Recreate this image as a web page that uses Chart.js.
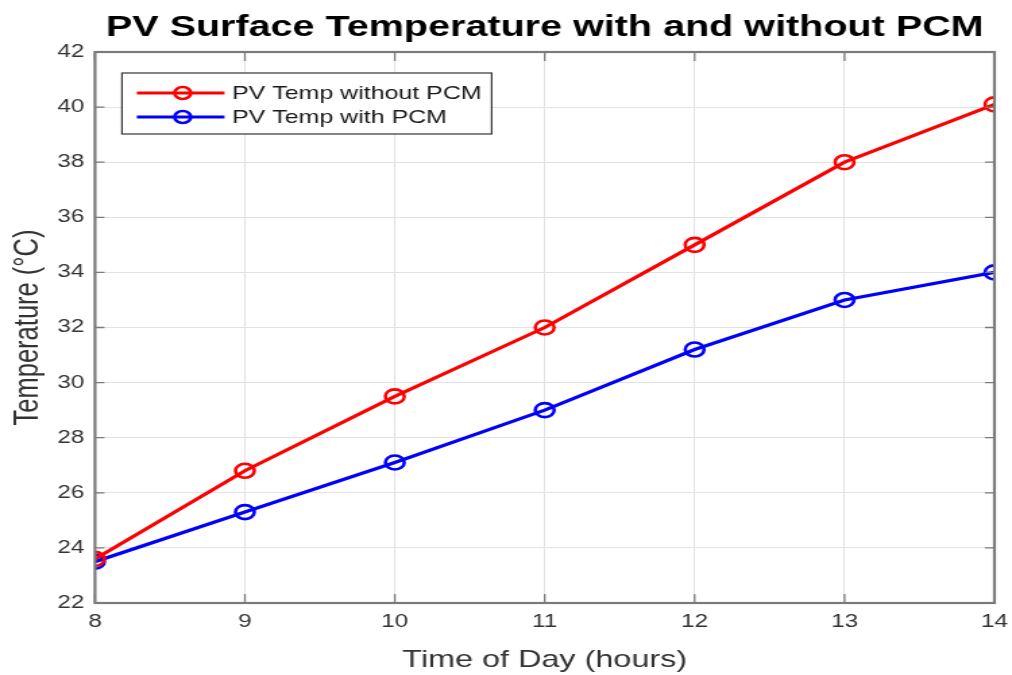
<!DOCTYPE html>
<html>
<head>
<meta charset="utf-8">
<script src="https://cdn.jsdelivr.net/npm/chart.js@4"></script>
<style>
  html, body { margin: 0; padding: 0; background: #fff; overflow: hidden; }
  /* the reference figure is stretched sideways, so draw narrow and stretch */
  #wrap { width: 750px; height: 675px; transform: scaleX(1.3493); transform-origin: 0 0; }
</style>
</head>
<body>
<div id="wrap"><canvas id="myChart"></canvas></div>
<script>
// data
var hours = [8, 9, 10, 11, 12, 13, 14];
var tempWithout = [23.6, 26.8, 29.5, 32.0, 35.0, 38.0, 40.1];
var tempWith = [23.5, 25.3, 27.1, 29.0, 31.2, 33.0, 34.0];
var seriesNames = ['PV Temp without PCM', 'PV Temp with PCM'];
var chartTitle = 'PV Surface Temperature with and without PCM';

function toPoints(values) {
    return hours.map(function (h, i) { return { x: h, y: values[i] }; });
}

var FONT = 'Liberation Sans, Arial, Helvetica, sans-serif';
var axisGray = '#7a7a7a';

// box around the axes, inward ticks, title over the plot and an in-plot legend
var matlabBox = {
    id: 'matlabBox',
    afterDatasetsDraw: function (chart) {
        var ctx = chart.ctx, a = chart.chartArea;
        var xs = chart.scales.x, ys = chart.scales.y;
        ctx.save();
        ctx.strokeStyle = axisGray;
        ctx.lineWidth = 1.3;
        ctx.beginPath();
        hours.forEach(function (h) {
            var px = xs.getPixelForValue(h);
            ctx.moveTo(px, a.top); ctx.lineTo(px, a.top + 9);
            ctx.moveTo(px, a.bottom); ctx.lineTo(px, a.bottom - 9);
        });
        ys.ticks.forEach(function (t) {
            var py = ys.getPixelForValue(t.value);
            ctx.moveTo(a.left, py); ctx.lineTo(a.left + 7, py);
            ctx.moveTo(a.right, py); ctx.lineTo(a.right - 7, py);
        });
        ctx.stroke();
        ctx.lineWidth = 2.2;
        ctx.strokeRect(a.left, a.top, a.right - a.left, a.bottom - a.top);

        // title, centred over the plot area
        ctx.fillStyle = '#000';
        ctx.font = 'bold 29.3px ' + FONT;
        ctx.textAlign = 'center';
        ctx.textBaseline = 'middle';
        ctx.fillText(chartTitle, (a.left + a.right) / 2, 28);

        // legend
        var bx = a.left + 20, by = a.top + 21, bw = 274, bh = 61;
        ctx.fillStyle = '#fff';
        ctx.fillRect(bx, by, bw, bh);
        ctx.strokeStyle = '#333';
        ctx.lineWidth = 1.2;
        ctx.strokeRect(bx, by, bw, bh);
        chart.data.datasets.forEach(function (ds, i) {
            var y = by + 20 + i * 24;
            ctx.strokeStyle = ds.borderColor;
            ctx.lineWidth = 3;
            ctx.beginPath();
            ctx.moveTo(bx + 11, y); ctx.lineTo(bx + 76, y);
            ctx.stroke();
            ctx.lineWidth = 2.5;
            ctx.beginPath();
            ctx.arc(bx + 45, y, 6, 0, Math.PI * 2);
            ctx.stroke();
            ctx.fillStyle = '#1a1a1a';
            ctx.font = '18.5px ' + FONT;
            ctx.textBaseline = 'middle';
            ctx.textAlign = 'left';
            ctx.fillText(ds.label, bx + 81.5, y + 1);
        });
        ctx.restore();
    }
};

const data = {
    datasets: [
        {
            label: seriesNames[0],
            data: toPoints(tempWithout),
            borderColor: '#ff0000',
            backgroundColor: 'transparent',
            pointBackgroundColor: 'transparent',
            pointBorderColor: '#ff0000',
        },
        {
            label: seriesNames[1],
            data: toPoints(tempWith),
            borderColor: '#0000ff',
            backgroundColor: 'transparent',
            pointBackgroundColor: 'transparent',
            pointBorderColor: '#0000ff',
        }
    ]
};

const config = {
    type: 'line',
    data: data,
    plugins: [matlabBox],
    options: {
        responsive: true,
        maintainAspectRatio: false,
        animation: false,
        layout: { padding: { left: 0, right: 13, top: 52, bottom: 0 } },
        elements: {
            line: { borderWidth: 3.2, tension: 0 },
            point: { radius: 7, borderWidth: 2.6, hoverRadius: 7 }
        },
        plugins: {
            legend: { display: false },
            tooltip: { enabled: false },
            title: { display: false }
        },
        scales: {
            x: {
                type: 'linear',
                min: 8,
                max: 14,
                afterFit: function (s) {
                    s.height = 72;
                    s.paddingLeft = 0;
                    s.paddingRight = 0;
                },
                ticks: {
                    stepSize: 1,
                    color: '#333',
                    padding: 8,
                    font: { family: FONT, size: 18 }
                },
                grid: { color: '#e2e2e2', lineWidth: 1, drawTicks: false },
                border: { display: false },
                title: {
                    display: true,
                    text: 'Time of Day (hours)',
                    color: '#333',
                    font: { family: FONT, size: 24 },
                    padding: { top: 0, bottom: 0 }
                }
            },
            y: {
                min: 22,
                max: 42,
                afterFit: function (s) { s.width = 70.4; },
                ticks: {
                    stepSize: 2,
                    color: '#333',
                    padding: 8,
                    font: { family: FONT, size: 18 }
                },
                grid: { color: '#e2e2e2', lineWidth: 1, drawTicks: false },
                border: { display: false },
                title: {
                    display: true,
                    text: 'Temperature (°C)',
                    color: '#333',
                    font: { family: FONT, size: 25.5 },
                    padding: { top: 6, bottom: 0 }
                }
            }
        }
    }
};

const myChart = new Chart(document.getElementById('myChart'), config);
</script>
</body>
</html>
